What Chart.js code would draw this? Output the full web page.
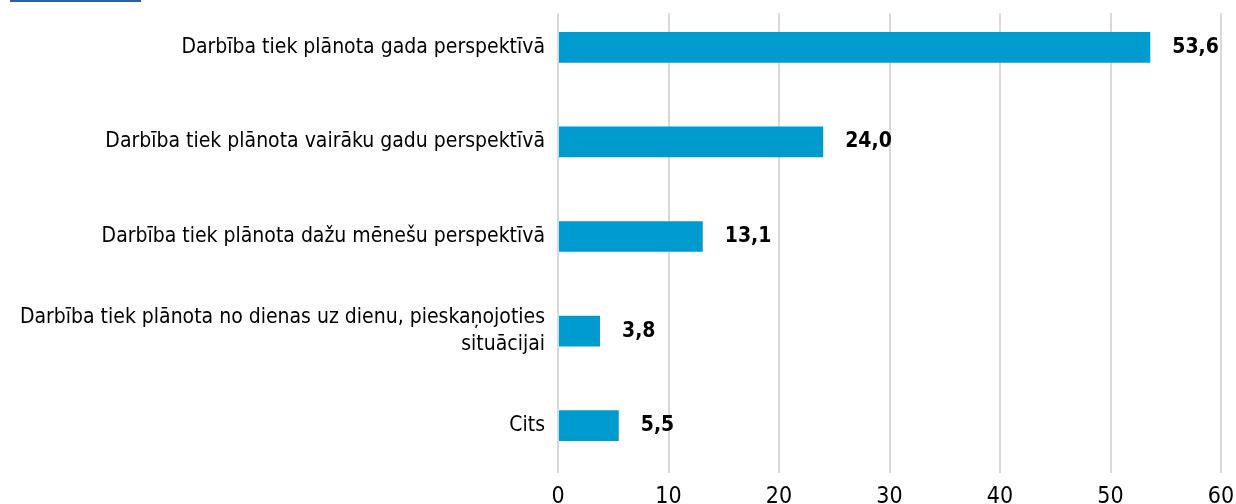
<!DOCTYPE html>
<html lang="lv">
<head>
    <title>Darbības plānošana</title>
    <script src="https://cdn.jsdelivr.net/npm/chart.js"></script>
    <style>
        body {
            margin: 0;
            width: 1236px;
            height: 504px;
            overflow: hidden;
            background: #fff;
        }
        .wrap {
            position: relative;
            width: 1236px;
            height: 524px;
        }
        .topline {
            position: absolute;
            left: 10px;
            top: 0;
            width: 131px;
            height: 2px;
            background: #2f5f9e;
        }
    </style>
</head>
<body>
    <div class="wrap">
        <div class="topline"></div>
        <canvas id="plan" width="1236" height="524"></canvas>
    </div>

    <script>
        const categories = [
            'Darbība tiek plānota gada perspektīvā',
            'Darbība tiek plānota vairāku gadu perspektīvā',
            'Darbība tiek plānota dažu mēnešu perspektīvā',
            ['Darbība tiek plānota no dienas uz dienu, pieskaņojoties', 'situācijai'],
            'Cits'
        ];
        const values = [53.6, 24.0, 13.1, 3.8, 5.5];
        const xTicks = [0, 10, 20, 30, 40, 50, 60];

        const fontFamily = '"Liberation Sans Narrow", "DejaVu Sans Condensed", sans-serif';

        // gridlines in the original start a bit below the top of the plot
        const gridTop = {
            id: 'gridTop',
            beforeDatasetsDraw(chart) {
                const a = chart.chartArea;
                chart.ctx.save();
                chart.ctx.fillStyle = '#fff';
                chart.ctx.fillRect(a.left - 2, 0, a.right - a.left + 4, 13);
                chart.ctx.restore();
            }
        };

        // draws the value next to each bar, with a comma decimal
        const valueLabels = {
            id: 'valueLabels',
            afterDatasetsDraw(chart) {
                const ctx = chart.ctx;
                const meta = chart.getDatasetMeta(0);
                ctx.save();
                ctx.font = 'bold 21px ' + fontFamily;
                ctx.fillStyle = '#000';
                ctx.textBaseline = 'middle';
                ctx.textAlign = 'left';
                meta.data.forEach((bar, i) => {
                    const txt = values[i].toFixed(1).replace('.', ',');
                    ctx.fillText(txt, bar.x + 22, bar.y);
                });
                ctx.restore();
            }
        };

        const ctx = document.getElementById('plan').getContext('2d');
        new Chart(ctx, {
            type: 'bar',
            data: {
                labels: categories,
                datasets: [{
                    data: values,
                    backgroundColor: 'rgb(0, 155, 206)',
                    barPercentage: 0.65,
                    categoryPercentage: 0.5
                }]
            },
            options: {
                indexAxis: 'y',
                responsive: false,
                animation: false,
                layout: {
                    padding: { top: 0, right: 15, left: 0, bottom: 0 }
                },
                plugins: {
                    legend: { display: false },
                    tooltip: { enabled: false }
                },
                scales: {
                    x: {
                        min: 0,
                        max: 60,
                        afterBuildTicks: (axis) => {
                            axis.ticks = xTicks.map(v => ({ value: v }));
                        },
                        afterFit: (axis) => {
                            axis.height = 51;
                            axis.paddingLeft = 0;
                            axis.paddingRight = 0;
                        },
                        grid: {
                            color: '#d9d9d9',
                            lineWidth: 2,
                            drawTicks: false
                        },
                        border: { display: false },
                        ticks: {
                            color: '#000',
                            padding: 10,
                            font: { family: fontFamily, size: 23 }
                        }
                    },
                    y: {
                        afterFit: (axis) => {
                            axis.width = 558;
                            axis.paddingTop = 0;
                            axis.paddingBottom = 0;
                        },
                        grid: { display: false, drawTicks: false },
                        border: { display: false },
                        ticks: {
                            color: '#000',
                            padding: 13,
                            font: { family: fontFamily, size: 21, lineHeight: 1.3 }
                        }
                    }
                }
            },
            plugins: [gridTop, valueLabels]
        });
    </script>
</body>
</html>
